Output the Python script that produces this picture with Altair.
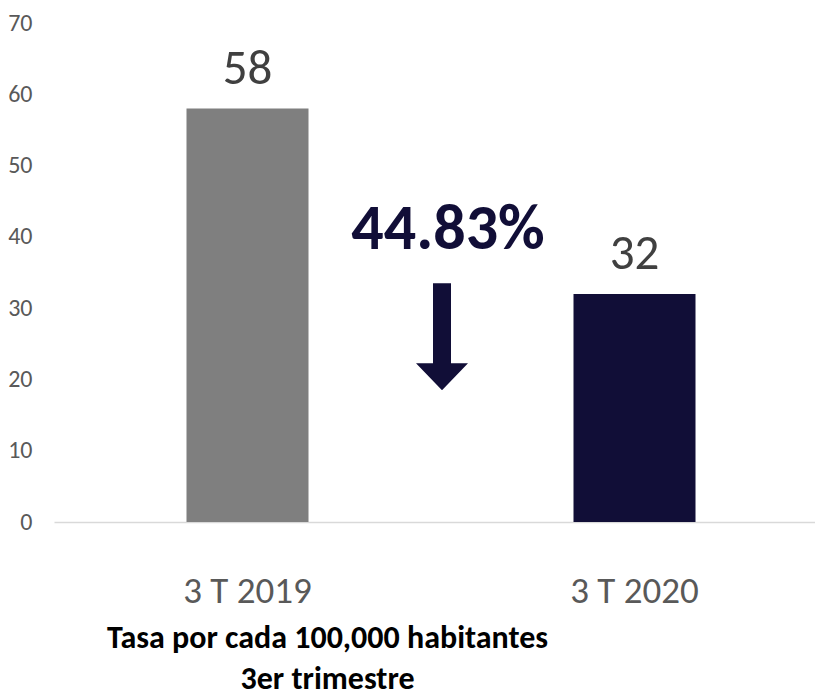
import altair as alt
import pandas as pd

categories = ["3 T 2019", "3 T 2020"]
values = [58, 32]
bar_colors = ["#7f7f7f", "#110e37"]
change_label = "44.83%"
title_lines = ["Tasa por cada 100,000 habitantes", "3er trimestre"]

df = pd.DataFrame({"periodo": categories, "tasa": values, "color": bar_colors})

FONT = "Carlito, Roboto, Liberation Sans, sans-serif"

x_enc = alt.X(
    "periodo:N",
    sort=categories,
    scale=alt.Scale(paddingInner=0.0, paddingOuter=0.0, range=[0, 774]),
    axis=alt.Axis(
        title=title_lines,
        titleFont=FONT,
        titleFontSize=32,
        titleFontWeight="bold",
        titleColor="#000000",
        titleX=273,
        titleY=125,
        titleAlign="center",
        titleBaseline="alphabetic",
        titleLineHeight=41,
        titleAnchor="start",
        labelAngle=0,
        labelFont=FONT,
        labelFontSize=37,
        labelColor="#595959",
        labelBaseline="alphabetic",
        labelPadding=80,
        ticks=False,
        domainColor="#d9d9d9",
        domainWidth=1.5,
    ),
)
y_enc = alt.Y(
    "tasa:Q",
    scale=alt.Scale(domain=[0, 70], nice=False),
    axis=alt.Axis(
        values=[0, 10, 20, 30, 40, 50, 60, 70],
        title=None,
        grid=False,
        domain=False,
        ticks=False,
        labelFont=FONT,
        labelFontSize=24,
        labelColor="#595959",
        labelPadding=22,
    ),
)

base = alt.Chart(df)

bars = base.mark_bar(size=122).encode(
    x=x_enc,
    y=y_enc,
    color=alt.Color("color:N", scale=None, legend=None),
)

labels = base.mark_text(
    font=FONT, fontSize=49, color="#404040", baseline="alphabetic", dy=-25
).encode(x=x_enc, y=y_enc, text=alt.Text("tasa:Q"))

ann_df = pd.DataFrame({"label": [change_label], "ypos": [38.3], "arrow_y": [26.0]})

ann_text = alt.Chart(ann_df).mark_text(
    font=FONT, fontSize=64, fontWeight="bold", color="#110e37", baseline="alphabetic"
).encode(
    x=alt.value(394),
    y=alt.Y("ypos:Q", scale=alt.Scale(domain=[0, 70], nice=False)),
    text="label:N",
)

arrow_path = "M-0.346,-2.058L0.346,-2.058L0.346,1.019L1,1.019L0,2.058L-1,1.019L-0.346,1.019Z"
arrow = alt.Chart(ann_df).mark_point(
    shape=arrow_path, size=2704, filled=True, color="#110e37", opacity=1, strokeWidth=0
).encode(
    x=alt.value(388),
    y=alt.Y("arrow_y:Q", scale=alt.Scale(domain=[0, 70], nice=False)),
)

chart = (
    alt.layer(bars, labels, ann_text, arrow)
    .properties(
        width=761,
        height=499,
        autosize=alt.AutoSizeParams(type="none"),
        padding={"left": 46, "top": 15, "right": 0, "bottom": 177},
    )
    .configure_view(stroke=None)
)

chart.save("out.html", embed_options={"renderer": "svg", "actions": False})
